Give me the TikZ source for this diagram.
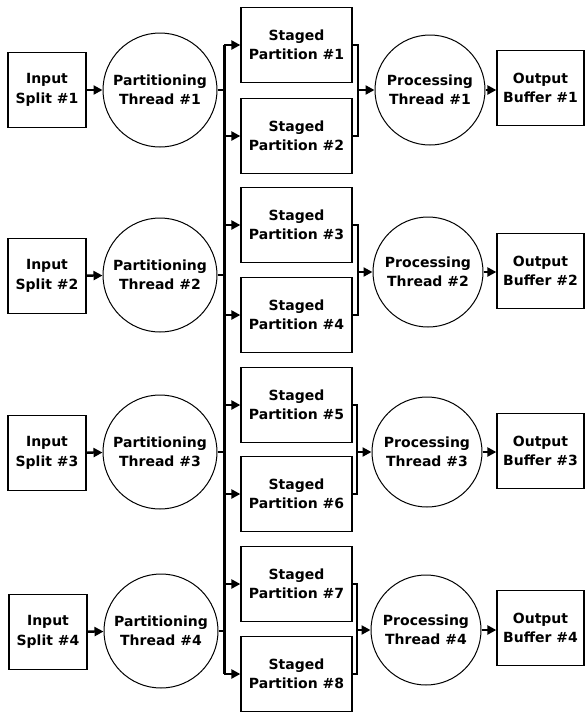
\documentclass[tikz,border=0pt]{standalone}
\usepackage{fontspec}
\setmainfont{DejaVu Sans}
\usetikzlibrary{arrows.meta,positioning}

\begin{document}
\begin{tikzpicture}[x=1pt,y=1pt]
\tikzstyle{every node}+=[inner sep=0pt, align=center, font=\fontsize{14}{19.5}\selectfont\bfseries]
\tikzstyle{inbox}=[draw, line width=1.3pt, minimum width=78pt, minimum height=75pt]
\tikzstyle{stagebox}=[draw, line width=1.3pt, minimum width=111pt, minimum height=75pt]
\tikzstyle{outbox}=[draw, line width=1.3pt, minimum width=87pt, minimum height=75pt]
\tikzstyle{thread}=[draw, circle, line width=1pt, minimum size=114pt]
\tikzstyle{arr}=[line width=2.3pt, -{Triangle[length=9pt,width=9pt]}]
\tikzstyle{bus}=[line width=3pt]
\useasboundingbox (0,0) rectangle (586,-713);
% inputs
\node[inbox] (in1) at (47,-90) {Input\\Split \#1};
\node[inbox] (in2) at (47,-276) {Input\\Split \#2};
\node[inbox] (in3) at (47,-453) {Input\\Split \#3};
\node[inbox] (in4) at (48,-632) {Input\\Split \#4};
% partitioning threads
\node[thread] (pt1) at (160,-90) {Partitioning\\Thread \#1};
\node[thread] (pt2) at (160,-275) {Partitioning\\Thread \#2};
\node[thread] (pt3) at (160,-452) {Partitioning\\Thread \#3};
\node[thread] (pt4) at (161,-631) {Partitioning\\Thread \#4};
% staged partitions
\node[stagebox] (sp1) at (296.5,-45) {Staged\\Partition \#1};
\node[stagebox] (sp2) at (296.5,-136) {Staged\\Partition \#2};
\node[stagebox] (sp3) at (296.5,-225) {Staged\\Partition \#3};
\node[stagebox] (sp4) at (296.5,-315) {Staged\\Partition \#4};
\node[stagebox] (sp5) at (296.5,-405) {Staged\\Partition \#5};
\node[stagebox] (sp6) at (296.5,-494) {Staged\\Partition \#6};
\node[stagebox] (sp7) at (296.5,-584) {Staged\\Partition \#7};
\node[stagebox] (sp8) at (296.5,-674) {Staged\\Partition \#8};
% processing threads
\node[thread, minimum size=110pt] (pr1) at (430,-90) {Processing\\Thread \#1};
\node[thread, minimum size=110pt] (pr2) at (428,-272) {Processing\\Thread \#2};
\node[thread, minimum size=110pt] (pr3) at (427,-452) {Processing\\Thread \#3};
\node[thread, minimum size=110pt] (pr4) at (426,-630) {Processing\\Thread \#4};
% outputs
\node[outbox] (ob1) at (540.5,-88) {Output\\Buffer \#1};
\node[outbox] (ob2) at (540.5,-271) {Output\\Buffer \#2};
\node[outbox] (ob3) at (540.5,-451) {Output\\Buffer \#3};
\node[outbox] (ob4) at (540.5,-628) {Output\\Buffer \#4};
% bus
\coordinate (b1) at (224,-45);
\coordinate (b2) at (224,-136);
\coordinate (b3) at (224,-225);
\coordinate (b4) at (224,-315);
\coordinate (b5) at (224,-405);
\coordinate (b6) at (224,-494);
\coordinate (b7) at (224,-584);
\coordinate (b8) at (224,-674);
\draw[bus] (b1) -- (b8);
\draw[arr] (b1) -- (sp1.west);
\draw[arr] (b2) -- (sp2.west);
\draw[arr] (b3) -- (sp3.west);
\draw[arr] (b4) -- (sp4.west);
\draw[arr] (b5) -- (sp5.west);
\draw[arr] (b6) -- (sp6.west);
\draw[arr] (b7) -- (sp7.west);
\draw[arr] (b8) -- (sp8.west);
% inputs to partitioning
\draw[arr] (in1) -- (pt1);
\draw[arr] (in2) -- (pt2);
\draw[arr] (in3) -- (pt3);
\draw[arr] (in4) -- (pt4);
% partitioning to bus
\draw[line width=1.2pt] (pt1.east) -- (pt1.east -| b1);
\draw[line width=1.2pt] (pt2.east) -- (pt2.east -| b1);
\draw[line width=1.2pt] (pt3.east) -- (pt3.east -| b1);
\draw[line width=1.2pt] (pt4.east) -- (pt4.east -| b1);
% brackets to processing
\coordinate (k1) at (358,-90);
\coordinate (k2) at (358,-272);
\coordinate (k3) at (357,-452);
\coordinate (k4) at (357,-630);
\draw[line width=2.4pt] (sp1.east) -| (k1) |- (sp2.east);
\draw[line width=2.4pt] (sp3.east) -| (k2) |- (sp4.east);
\draw[line width=2.4pt] (sp5.east) -| (k3) |- (sp6.east);
\draw[line width=2.4pt] (sp7.east) -| (k4) |- (sp8.east);
\draw[arr] (k1) -- (pr1);
\draw[arr] (k2) -- (pr2);
\draw[arr] (k3) -- (pr3);
\draw[arr] (k4) -- (pr4);
% processing to outputs
\draw[arr] (pr1) -- (pr1 -| ob1.west);
\draw[arr] (pr2) -- (pr2 -| ob2.west);
\draw[arr] (pr3) -- (pr3 -| ob3.west);
\draw[arr] (pr4) -- (pr4 -| ob4.west);
\end{tikzpicture}
\end{document}
